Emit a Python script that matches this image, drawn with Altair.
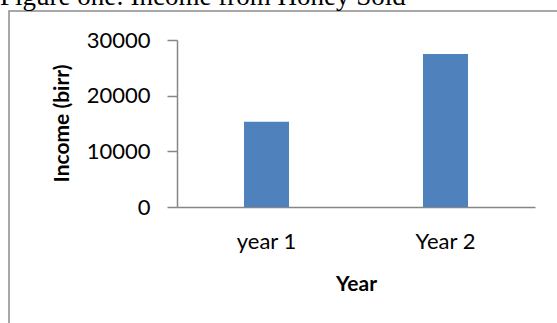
import altair as alt
import pandas as pd

title_text = "Figure one: Income from Honey Sold"
years = ["year 1", "Year 2"]
income = [15300, 27500]
y_ticks = [0, 10000, 20000, 30000]

df = pd.DataFrame({"Year": years, "Income": income})

GRAY = "#868686"
FONT = "Lato"

bars = alt.Chart(df).mark_bar(size=45, color="#4F81BD").encode(
    x=alt.X("Year:N", sort=years,
            scale=alt.Scale(paddingInner=0, paddingOuter=0),
            axis=alt.Axis(title="Year", labelAngle=0, ticks=False, tickSize=0,
                          labelPadding=34, labelBaseline="middle",
                          labelFont=FONT, labelFontSize=22, labelColor="black",
                          titleFont=FONT, titleFontSize=21, titleFontWeight="bold",
                          titleColor="black", titleBaseline="alphabetic",
                          titleY=83, titleAnchor="middle",
                          domainColor=GRAY, domainWidth=1.5)),
    y=alt.Y("Income:Q", scale=alt.Scale(domain=[0, 30000], nice=False),
            axis=alt.Axis(title="Income (birr)", values=y_ticks, grid=False,
                          format="d",
                          tickSize=10, tickColor=GRAY, tickWidth=1.5,
                          labelPadding=17, labelFont=FONT, labelFontSize=22,
                          labelColor="black", labelBaseline="middle",
                          titleFont=FONT, titleFontSize=21, titleFontWeight="bold",
                          titleColor="black", titleAngle=270,
                          titleBaseline="middle", titleAlign="center",
                          titleX=-115, titleY=83,
                          domainColor=GRAY, domainWidth=1.5)),
)

single = alt.Data(values=[{"label": title_text}])
border = alt.Chart(single).mark_rect(
    fill="transparent", stroke="#8c8c8c", strokeWidth=1.5).encode(
    x=alt.value(-168), x2=alt.value(420), y=alt.value(-29), y2=alt.value(320))
title = alt.Chart(single).mark_text(
    font="Liberation Serif", fontSize=27, color="black",
    align="left", baseline="alphabetic").encode(
    text="label:N", x=alt.value(-177), y=alt.value(-35))

chart = alt.layer(border, title, bars).properties(
    width=358, height=167,
    autosize=alt.AutoSizeParams(type="none"),
    padding={"left": 177, "top": 40, "right": 22, "bottom": 116},
).configure_view(stroke=None)

chart.save("out.html", embed_options={"renderer": "svg", "actions": False})
